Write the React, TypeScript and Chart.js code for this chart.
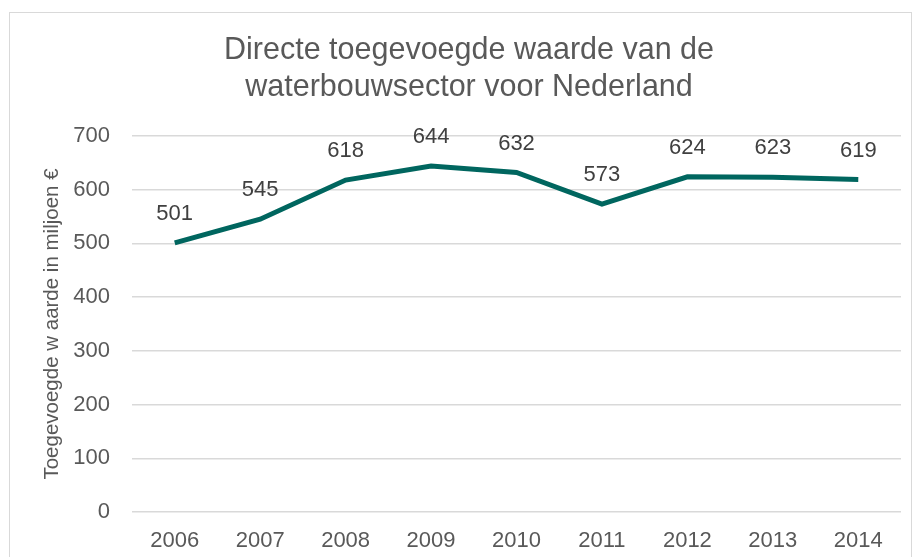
import React, { useEffect, useRef } from "react";
import { Chart, registerables } from "chart.js";

Chart.register(...registerables);

const years = ["2006", "2007", "2008", "2009", "2010", "2011", "2012", "2013", "2014"];
const values = [501, 545, 618, 644, 632, 573, 624, 623, 619];
const titleLines = ["Directe toegevoegde waarde van de", "waterbouwsector voor Nederland"];
const yAxisTitle = "Toegevoegde w aarde in miljoen €";

const FONT = "'Liberation Sans', Arial, sans-serif";

const labelPlugin = {
  id: "pointLabels",
  afterDatasetsDraw(chart: any) {
    const ctx = chart.ctx;
    const meta = chart.getDatasetMeta(0);
    ctx.save();
    ctx.font = `22px ${FONT}`;
    ctx.fillStyle = "#404040";
    ctx.textAlign = "center";
    ctx.textBaseline = "middle";
    meta.data.forEach((pt: any, i: number) => {
      ctx.fillText(String(values[i]), pt.x, pt.y - 29);
    });
    ctx.restore();
  },
};

const titlePlugin = {
  id: "chartTitleText",
  afterDraw(chart: any) {
    const ctx = chart.ctx;
    ctx.save();
    ctx.font = `30.5px ${FONT}`;
    ctx.fillStyle = "#595959";
    ctx.textAlign = "center";
    ctx.textBaseline = "middle";
    titleLines.forEach((line, i) => {
      ctx.fillText(line, 469, 51 + i * 37);
    });
    ctx.restore();
  },
};

export default function App() {
  const ref = useRef<HTMLCanvasElement | null>(null);
  useEffect(() => {
    if (!ref.current) return;
    const chart = new Chart(ref.current, {
      type: "line",
      data: {
        labels: years,
        datasets: [
          {
            data: values,
            borderColor: "#00665F",
            borderWidth: 5,
            pointRadius: 0,
            tension: 0,
            fill: false,
          },
        ],
      },
      options: {
        responsive: false,
        animation: false,
        layout: { padding: { left: 0, right: 14, top: 136, bottom: 0 } },
        plugins: {
          legend: { display: false },
          tooltip: { enabled: false },
          title: { display: false },
        },
        scales: {
          x: {
            offset: true,
            grid: { display: false },
            border: { display: false },
            ticks: {
              color: "#595959",
              font: { family: FONT, size: 22 },
              padding: 8,
              maxRotation: 0,
            },
            afterFit(scale: any) {
              scale.height = 45;
            },
          },
          y: {
            min: 0,
            max: 700,
            ticks: {
              stepSize: 100,
              color: "#595959",
              font: { family: FONT, size: 22 },
              padding: 22,
            },
            grid: { color: "#D9D9D9", lineWidth: 1.5, drawTicks: false },
            border: { display: false },
            title: {
              display: true,
              text: yAxisTitle,
              color: "#595959",
              font: { family: FONT, size: 20.5 },
              padding: { top: 40, bottom: 0 },
            },
            afterFit(scale: any) {
              scale.width = 132;
            },
          },
        },
      },
      plugins: [labelPlugin, titlePlugin],
    });
    return () => chart.destroy();
  }, []);

  return (
    <div style={{ position: "fixed", left: 0, top: 0, width: 915, height: 557, background: "#fff", overflow: "hidden" }}>
      <div
        style={{
          position: "absolute",
          left: 9,
          top: 12,
          width: 903,
          height: 600,
          border: "1.5px solid #D9D9D9",
          boxSizing: "border-box",
        }}
      />
      <canvas ref={ref} width={915} height={557} style={{ position: "absolute", left: 0, top: 0 }} />
    </div>
  );
}
